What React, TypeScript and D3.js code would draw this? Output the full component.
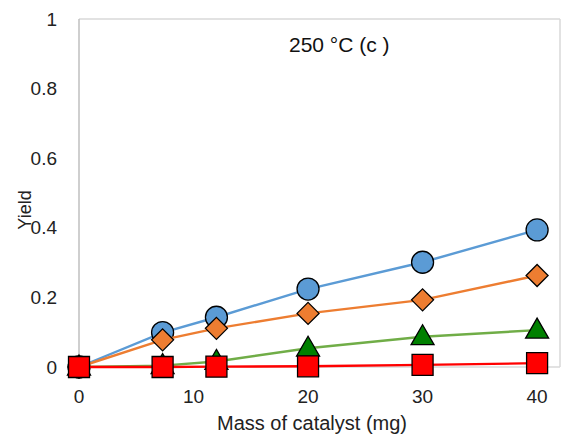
import React from "react";
import * as d3 from "d3";

const xValues = [0, 7.3, 12, 20, 30, 40];
const blueCircle = [0, 0.099, 0.143, 0.224, 0.301, 0.394];
const orangeDiamond = [0, 0.078, 0.111, 0.154, 0.193, 0.263];
const greenTriangle = [0, 0.004, 0.016, 0.054, 0.087, 0.106];
const redSquare = [0, 0.0, 0.001, 0.002, 0.006, 0.011];
const xTicks = [0, 10, 20, 30, 40];
const yTicks = [0, 0.2, 0.4, 0.6, 0.8, 1];

const W = 563;
const H = 439;
const margin = { left: 79, top: 19, right: 3, bottom: 72 };
const FONT = "'Liberation Sans', Arial, sans-serif";

export default function App() {
  const x = d3.scaleLinear().domain([0, 42]).range([margin.left, W - margin.right]);
  const y = d3.scaleLinear().domain([0, 1]).range([H - margin.bottom, margin.top]);

  const series = [
    { vals: blueCircle, line: "#5b9bd5", fill: "#5b9bd5", shape: "circle" },
    { vals: orangeDiamond, line: "#ed7d31", fill: "#ed7d31", shape: "diamond" },
    { vals: greenTriangle, line: "#70ad47", fill: "#008000", shape: "triangle" },
    { vals: redSquare, line: "#ff0000", fill: "#ff0000", shape: "square" },
  ];

  const symbolPath = (shape: string) => {
    if (shape === "circle") return d3.symbol(d3.symbolCircle, Math.PI * 11 * 11)();
    if (shape === "diamond") {
      const s = 11;
      return `M0,${-s}L${s},0L0,${s}L${-s},0Z`;
    }
    if (shape === "triangle") {
      return `M0,-12L11.5,8L-11.5,8Z`;
    }
    return `M-10.5,-10.5H10.5V10.5H-10.5Z`;
  };

  const lineGen = (vals: number[]) =>
    d3
      .line<number>()
      .x((_, i) => x(xValues[i]))
      .y((v) => y(v))(vals) || "";

  const x0 = x(0);
  const x1 = W - margin.right;
  const y0 = y(0);
  const y1 = y(1);

  return (
    <svg width={W} height={H} style={{ position: "absolute", left: 0, top: 0 }}>
      <rect x={0} y={0} width={W} height={H} fill="#fff" />
      <line x1={x0} x2={x1} y1={y1} y2={y1} stroke="#d9d9d9" strokeWidth={1.5} />
      <line x1={x1} x2={x1} y1={y1} y2={y0} stroke="#d9d9d9" strokeWidth={1.5} />
      <line x1={x0} x2={x1} y1={y0} y2={y0} stroke="#d9d9d9" strokeWidth={1.5} />
      <line x1={x0} x2={x0} y1={y1} y2={y0} stroke="#bfbfbf" strokeWidth={1.5} />

      {yTicks.map((t) => (
        <text
          key={"y" + t}
          x={57}
          y={y(t)}
          dy="0.35em"
          textAnchor="end"
          fontFamily={FONT}
          fontSize={19}
          fill="#222"
        >
          {t}
        </text>
      ))}
      {xTicks.map((t) => (
        <text
          key={"x" + t}
          x={x(t)}
          y={403}
          textAnchor="middle"
          fontFamily={FONT}
          fontSize={19}
          fill="#222"
        >
          {t}
        </text>
      ))}

      <text x={312} y={430} textAnchor="middle" fontFamily={FONT} fontSize={20} fill="#222">
        Mass of catalyst (mg)
      </text>
      <text
        transform={`translate(31,210) rotate(-90)`}
        textAnchor="middle"
        fontFamily={FONT}
        fontSize={18}
        fill="#222"
      >
        Yield
      </text>
      <text x={289} y={52} fontFamily={FONT} fontSize={21} fill="#111">
        250 °C (c )
      </text>

      {series.map((s, si) => (
        <g key={si}>
          <path d={lineGen(s.vals)} fill="none" stroke={s.line} strokeWidth={2.4} />
          {s.vals.map((v, i) => (
            <path
              key={i}
              d={symbolPath(s.shape)}
              transform={`translate(${x(xValues[i])},${y(v)})`}
              fill={s.fill}
              stroke="#000"
              strokeWidth={1.3}
            />
          ))}
        </g>
      ))}
    </svg>
  );
}
